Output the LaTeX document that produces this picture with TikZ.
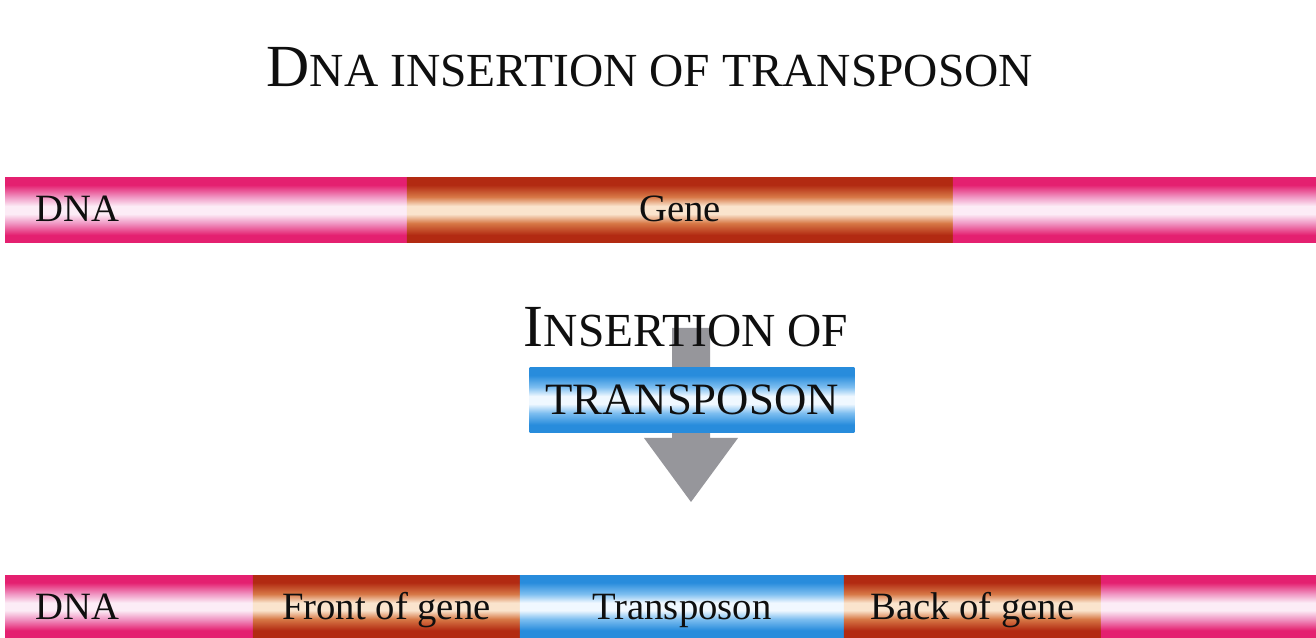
\documentclass[tikz,border=0pt]{standalone}
\usepackage{fontspec}
\setmainfont{Liberation Serif}
\usepackage{tikz}
\usetikzlibrary{
  positioning,
  calc
}
\definecolor{pinkdark}{RGB}{228, 32, 112}
\definecolor{pinkmid}{RGB}{240, 150, 195}
\definecolor{pinklight}{RGB}{252, 236, 246}
\definecolor{browndark}{RGB}{178, 42, 18}
\definecolor{brownmid}{RGB}{215, 120, 70}
\definecolor{brownlight}{RGB}{250, 228, 205}
\definecolor{bluedark}{RGB}{40, 140, 220}
\definecolor{bluemid}{RGB}{125, 190, 240}
\definecolor{bluelight}{RGB}{240, 248, 255}
\definecolor{arrowgray}{RGB}{150, 150, 155}
\definecolor{labelcolor}{RGB}{15, 15, 15}
\pgfdeclareverticalshading{pinkbar}{100bp}{color(0bp)=(pinkdark); color(25bp)=(pinkdark);
  color(31bp)=(pinkdark); color(40bp)=(pinkmid); color(47bp)=(pinklight); color(53bp)=(pinklight);
  color(60bp)=(pinkmid); color(69bp)=(pinkdark); color(75bp)=(pinkdark); color(100bp)=(pinkdark)}
\pgfdeclareverticalshading{brownbar}{100bp}{color(0bp)=(browndark); color(25bp)=(browndark);
  color(31bp)=(browndark); color(40bp)=(brownmid); color(47bp)=(brownlight); color(53bp)=(brownlight);
  color(60bp)=(brownmid); color(69bp)=(browndark); color(75bp)=(browndark); color(100bp)=(browndark)}
\pgfdeclareverticalshading{bluebar}{100bp}{color(0bp)=(bluedark); color(25bp)=(bluedark);
  color(31bp)=(bluedark); color(40bp)=(bluemid); color(47bp)=(bluelight); color(53bp)=(bluelight);
  color(60bp)=(bluemid); color(69bp)=(bluedark); color(75bp)=(bluedark); color(100bp)=(bluedark)}
\newcommand{\capbig}[1]{{\fontsize{34}{40}\selectfont #1}}
\newcommand{\capsmall}[1]{{\fontsize{27}{32}\selectfont #1}}
\tikzset{
barseg/.style={
  inner sep=0pt,
  outer sep=0pt,
  minimum height=1.32cm,
  anchor=west,
  shade
},
lowseg/.style={
  barseg,
  minimum height=1.26cm
},
dnaseg/.style={
  shading=pinkbar
},
geneseg/.style={
  shading=brownbar
},
tposseg/.style={
  shading=bluebar
},
barlabel/.style={
  font=\fontsize{22}{26}\selectfont,
  text=labelcolor,
  inner sep=0pt
},
titlelabel/.style={
  text=labelcolor,
  inner sep=0pt,
  anchor=base
},
tposbox/.style={
  shade,
  shading=bluebar,
  minimum width=6.5cm,
  minimum height=1.3cm,
  inner sep=0pt,
  font=\fontsize{25.5}{30}\selectfont,
  text=labelcolor
}
}

\begin{document}
\begin{tikzpicture}[x=0.02cm,y=-0.02cm]
  \fill[white] (0,0) rectangle (1316,638);
  \useasboundingbox (0,0) rectangle (1316,638);

  % title
  \node[titlelabel] (title) at (650,87) {\capbig{D}\capsmall{NA INSERTION OF TRANSPOSON}};

  % upper strand
  \node[barseg, dnaseg, minimum width=8.04cm] (topdna) at (5,210) {};
  \node[barseg, geneseg, minimum width=10.92cm, right=0pt of topdna] (topgene) {};
  \node[barseg, dnaseg, minimum width=7.26cm, right=0pt of topgene] (topend) {};
  \node[barlabel, anchor=base west] (topdnalabel) at (35,222) {DNA};
  \node[barlabel, anchor=base] (topgenelabel) at ($(topgene.center)+(0,12)$) {Gene};

  % insertion arrow
  \coordinate (arrowtop) at (691,328);
  \coordinate (arrowtip) at (691,502);
  \fill[arrowgray] ($(arrowtop)+(-19,0)$) -- ($(arrowtop)+(19,0)$) -- ($(arrowtip)+(19,-64)$)
    -- ($(arrowtip)+(47,-64)$) -- (arrowtip) -- ($(arrowtip)+(-47,-64)$) -- ($(arrowtip)+(-19,-64)$) -- cycle;
  \node[titlelabel] (insertlabel) at (686,347) {\capbig{I}\capsmall{NSERTION OF}};
  \node[tposbox] (tposlabel) at (692,400) {TRANSPOSON};

  % lower strand
  \node[lowseg, dnaseg, minimum width=4.96cm] (lowdna) at (5,606.5) {};
  \node[lowseg, geneseg, minimum width=5.34cm, right=0pt of lowdna] (lowfront) {};
  \node[lowseg, tposseg, minimum width=6.48cm, right=0pt of lowfront] (lowtpos) {};
  \node[lowseg, geneseg, minimum width=5.14cm, right=0pt of lowtpos] (lowback) {};
  \node[lowseg, dnaseg, minimum width=4.3cm, right=0pt of lowback] (lowend) {};
  \node[barlabel, anchor=base west] (lowdnalabel) at (35,620) {DNA};
  \node[barlabel, anchor=base] (frontlabel) at ($(lowfront.center)+(0,13.5)$) {Front of gene};
  \node[barlabel, anchor=base] (tposname) at ($(lowtpos.center)+(0,13.5)$) {Transposon};
  \node[barlabel, anchor=base] (backlabel) at ($(lowback.center)+(0,13.5)$) {Back of gene};
\end{tikzpicture}
\end{document}
